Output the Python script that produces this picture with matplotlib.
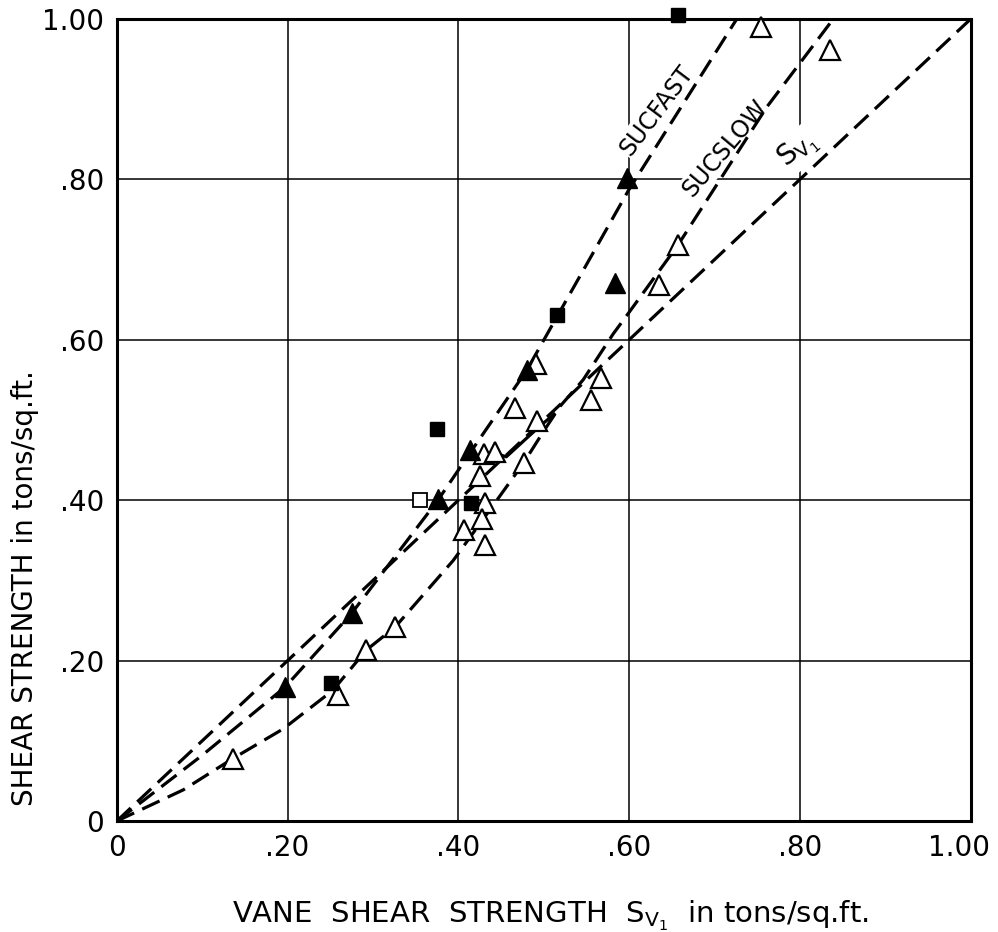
import matplotlib
matplotlib.use("Agg")
import matplotlib.pyplot as plt
from matplotlib.transforms import ScaledTranslation

# tick labels
tick_vals = [0, 0.2, 0.4, 0.6, 0.8, 1.0]
tick_labels = ['0', '.20', '.40', '.60', '.80', '1.00']

# S_uc fast, filled squares
fsq_x = [0.657, 0.375, 0.515, 0.415, 0.251]
fsq_y = [1.005, 0.489, 0.631, 0.397, 0.172]
# open square
osq_x = [0.355]
osq_y = [0.40]
# filled triangles
ftri_x = [0.597, 0.583, 0.48, 0.413, 0.376, 0.275, 0.197]
ftri_y = [0.801, 0.671, 0.562, 0.462, 0.401, 0.259, 0.167]
# open triangles
otri_x = [0.754, 0.835, 0.657, 0.635, 0.567, 0.555, 0.491, 0.466, 0.492, 0.43,
          0.443, 0.425, 0.477, 0.431, 0.428, 0.407, 0.431, 0.326, 0.292, 0.259, 0.136]
otri_y = [0.99, 0.961, 0.718, 0.668, 0.552, 0.525, 0.570, 0.515, 0.498, 0.458,
          0.46, 0.43, 0.446, 0.396, 0.377, 0.363, 0.344, 0.242, 0.213, 0.157, 0.078]

# curves
sv1_x = [0, 1.0]
sv1_y = [0, 1.0]
fast_x = [0, 0.1, 0.197, 0.275, 0.376, 0.413, 0.48, 0.515, 0.599, 0.726]
fast_y = [0, 0.082, 0.167, 0.259, 0.40, 0.458, 0.562, 0.628, 0.786, 1.0]
slow_x = [0, 0.078, 0.136, 0.195, 0.253, 0.292, 0.326, 0.394, 0.445, 0.476, 0.501,
          0.519, 0.546, 0.581, 0.599, 0.657, 0.761, 0.839]
slow_y = [0, 0.039, 0.078, 0.115, 0.163, 0.213, 0.242, 0.325, 0.40, 0.446, 0.488,
          0.517, 0.55, 0.607, 0.633, 0.718, 0.89, 1.0]
branch_x = [0.512, 0.495, 0.456, 0.447]
branch_y = [0.507, 0.492, 0.454, 0.457]

plt.rcParams['font.family'] = ['DejaVu Sans']

fig = plt.figure(figsize=(9.98, 9.32), dpi=100)
ax = fig.add_axes([0.117, 0.119, 0.856, 0.861])
ax.set_xlim(0, 1.0)
ax.set_ylim(0, 1.0)

ax.set_axisbelow(True)
ax.grid(True, color='black', linewidth=1.1)

dash = dict(color='black', linewidth=2.3, dashes=(6, 2.8), zorder=3)
ax.plot(sv1_x, sv1_y, **dash)
ax.plot(fast_x, fast_y, **dash)
ax.plot(slow_x, slow_y, **dash)
ax.plot(branch_x, branch_y, color='black', linewidth=2.3, zorder=3)

ax.plot(otri_x, otri_y, '^', ms=14, mfc='white', mec='black', mew=1.6, zorder=4, clip_on=False)
ax.plot(ftri_x, ftri_y, '^', ms=14, mfc='black', mec='black', zorder=4, clip_on=False)
ax.plot(fsq_x, fsq_y, 's', ms=9.5, mfc='black', mec='black', zorder=4, clip_on=False)
ax.plot(osq_x, osq_y, 's', ms=9.5, mfc='white', mec='black', mew=1.3, zorder=4, clip_on=False)

# curve labels, white box breaks the grid like the original
box = dict(facecolor='white', edgecolor='none', pad=1)
ax.text(0.632, 0.886, 'SUCFAST', rotation=53, fontsize=17, ha='center', va='center',
        bbox=box, zorder=2)
ax.text(0.712, 0.838, 'SUCSLOW', rotation=50, fontsize=17, ha='center', va='center',
        bbox=box, zorder=2)
ax.text(0.797, 0.836, r'S$_{\mathrm{V_1}}$', rotation=40, fontsize=20, ha='center',
        va='center', bbox=box, zorder=2)

ax.set_xticks(tick_vals, tick_labels, fontsize=20)
ax.set_yticks(tick_vals, tick_labels, fontsize=20)
ax.tick_params(length=0, pad=9)
# last x label sits a little left of the corner in the original
last = ax.get_xticklabels()[-1]
last.set_transform(last.get_transform() + ScaledTranslation(-9 / 72, 0, fig.dpi_scale_trans))
for s in ax.spines.values():
    s.set_linewidth(2.2)

ax.set_xlabel(r'VANE  SHEAR  STRENGTH  S$_{\mathrm{V_1}}$  in tons/sq.ft.', fontsize=21)
ax.xaxis.set_label_coords(0.508, -0.097)
ax.set_ylabel('SHEAR STRENGTH in tons/sq.ft.', fontsize=20)
ax.yaxis.set_label_coords(-0.091, 0.29)

fig.savefig('out.png', dpi=100)
